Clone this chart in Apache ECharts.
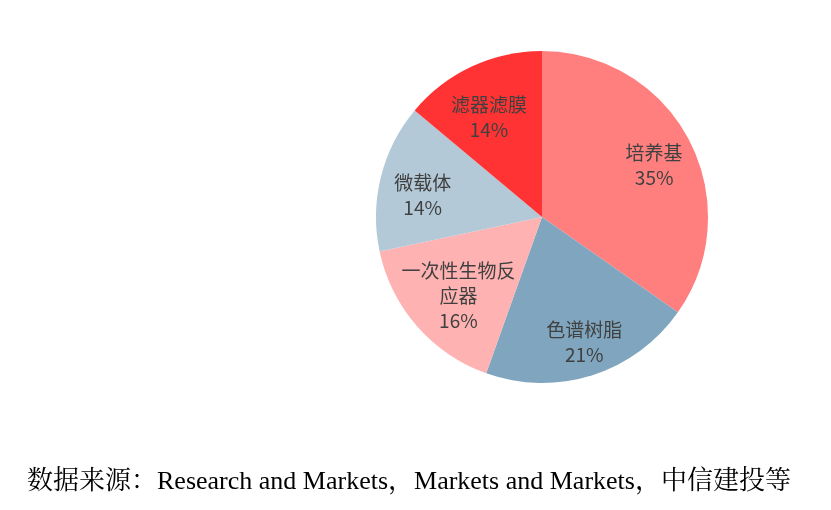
<!DOCTYPE html>
<html><head><meta charset="utf-8">
<script src="https://cdn.jsdelivr.net/npm/echarts@6/dist/echarts.min.js"></script>
<style>html,body{margin:0;padding:0;background:#fff}#c{width:831px;height:510px}</style>
</head><body><div id="c"></div>
<script>
const categories = ['培养基', '色谱树脂', '一次性生物反\n应器', '微载体', '滤器滤膜'];
const values = [34.7, 20.7, 16.2, 14.4, 13.9];
const labels = ['35%', '21%', '16%', '14%', '14%'];
const colors = ['#FF7F7F', '#80A5BE', '#FFB2B2', '#B3C9D8', '#FF3333'];
const sourceText = '数据来源：Research and Markets，Markets and Markets，中信建投等';

// label nudges (layout only)
const labelNudge = [[3, 5], [5, 8], [9, -2], [0, 8], [-1, 12]];

const chart = echarts.init(document.getElementById('c'));
const data = categories.map((n, i) => ({ name: n, value: values[i], itemStyle: { color: colors[i] } }));
const labelData = categories.map((n, i) => ({ name: n, value: values[i], label: { offset: labelNudge[i] } }));
chart.setOption({
  animation: false,
  title: {
    text: sourceText, left: 22, top: 464,
    textStyle: { fontFamily: '"Liberation Serif", "Noto Serif CJK SC", "Noto Sans CJK SC", serif', fontSize: 26, fontWeight: 'normal', color: '#000' }
  },
  series: [
    {
      type: 'pie', center: [542, 217], radius: [0, 166], startAngle: 90, clockwise: true,
      label: { show: false }, labelLine: { show: false }, silent: true,
      itemStyle: { borderWidth: 0 },
      data: data
    },
    {
      type: 'pie', center: [542, 217], radius: [74, 166], startAngle: 90, clockwise: true,
      silent: true, itemStyle: { color: 'rgba(0,0,0,0)' },
      label: {
        show: true, position: 'inside', color: '#404040',
        fontFamily: '"Noto Sans CJK SC", sans-serif', fontSize: 19, lineHeight: 25,
        formatter: p => p.name + '\n' + labels[p.dataIndex]
      },
      labelLine: { show: false },
      data: labelData
    }
  ]
});
</script></body></html>
